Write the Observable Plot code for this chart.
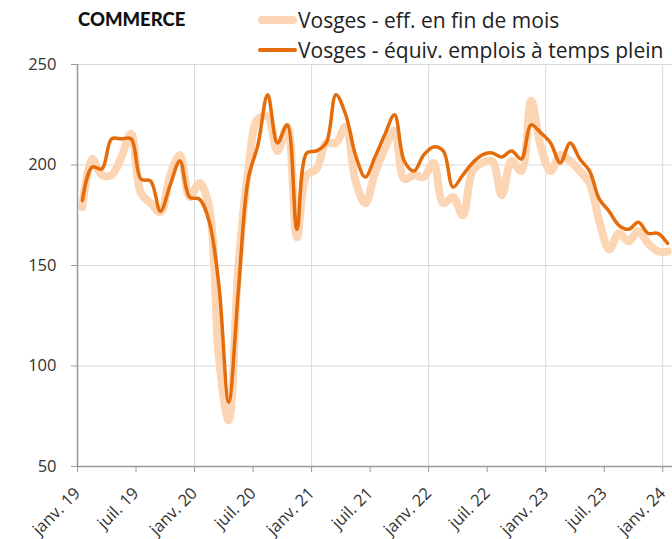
<!DOCTYPE html>
<html><head><meta charset="utf-8">
<script src="https://cdn.jsdelivr.net/npm/d3@7"></script>
<script src="https://cdn.jsdelivr.net/npm/@observablehq/plot@0.6"></script>
<style>
body{margin:0;background:#fff;font-family:"Open Sans",Lato,sans-serif;}
#wrap{position:relative;width:672px;height:539px;overflow:hidden;}
#head{position:relative;height:44px;}
#title{position:absolute;left:78px;top:7px;font-family:Lato,sans-serif;font-size:18.5px;font-weight:900;color:#111;line-height:24px;}
.leg{position:absolute;left:258px;font-size:21px;line-height:26px;color:#222;display:flex;align-items:center;white-space:nowrap;}
.sw{display:inline-block;width:39px;margin-right:1px;border-radius:4px;}
</style></head><body>
<div id="wrap">
<div id="head">
  <div id="title">COMMERCE</div>
  <div class="leg" style="top:7px"><span class="sw" style="height:8px;background:#FCD5B4"></span><span>Vosges - eff. en fin de mois</span></div>
  <div class="leg" style="top:37px"><span class="sw" style="height:4px;background:#E46C0A"></span><span>Vosges - équiv. emplois à temps plein</span></div>
</div>
<div id="chart"></div>
</div>
<script>
// Monthly values, janv. 2019 -> janv. 2024 (61 months)
const effFinMois = [179,203,195,195,204,215.5,186,181,176.5,195,205,184,191,179,104,73,150,197,223,224,207,219,164,195,198,211,211,219,192,181,196,208,217,193,195,194,201,181,184,175,197,201,202,185,202,197,232,209,197,205,202,197,191,172,158,166,162,167,161,157,157];
const equivETP = [182.3,199,198,213,213,213,193,192,177,190,202,184,183,172,140,82,138,193,210,235,211,220,168,206,207,211,235,225,205,194,204,215,225,202,197,205,209,207,189,195,201,205,206,204,207,203,220,216,211,201,211,203,197,183,177,170,168,171.5,166,166,161];
const yTicks = [50,100,150,200,250];
const tickMonths = [0,6,12,18,24,30,36,42,48,54,60];
const tickLabels = ["janv. 19","juil. 19","janv. 20","juil. 20","janv. 21","juil. 21","janv. 22","juil. 22","janv. 23","juil. 23","janv. 24"];
const yearMonths = [12,24,36,48,60];

const rows = effFinMois.map((v,i)=>({m:i+0.5, eff:v, etp:equivETP[i]}));
const labelOf = new Map(tickMonths.map((m,i)=>[m,tickLabels[i]]));

const chart = Plot.plot({
  width:672, height:495,
  marginTop:20, marginBottom:73, marginLeft:77, marginRight:0,
  style:{fontFamily:"'Open Sans', Lato, sans-serif", fontSize:"16px", color:"#333", background:"#fff", overflow:"visible"},
  x:{type:"linear", domain:[0,61]},
  y:{domain:[50,250]},
  marks:[
    Plot.ruleY(yTicks.slice(1), {stroke:"#d9d9d9", strokeWidth:1}),
    Plot.ruleX(yearMonths, {stroke:"#d9d9d9", strokeWidth:1}),
    Plot.axisY({ticks:yTicks, tickSize:6, tickPadding:15, stroke:"#999", label:null, fontSize:16.5}),
    Plot.axisX({ticks:tickMonths, tickFormat:d=>labelOf.get(d), tickSize:6, tickPadding:18, tickRotate:-45, stroke:"#999", label:null, fontSize:16.5}),
    Plot.line(rows, {x:"m", y:"eff", stroke:"#FCD5B4", strokeWidth:8, curve:"catmull-rom", strokeLinejoin:"round", strokeLinecap:"round"}),
    Plot.line(rows, {x:"m", y:"etp", stroke:"#E46C0A", strokeWidth:3.5, curve:"catmull-rom", strokeLinejoin:"round", strokeLinecap:"round"}),
    Plot.ruleY([50], {stroke:"#999", strokeWidth:1.5}),
    Plot.ruleX([0], {stroke:"#999", strokeWidth:1.5})
  ]
});
document.getElementById("chart").appendChild(chart);
</script>
</body></html>
